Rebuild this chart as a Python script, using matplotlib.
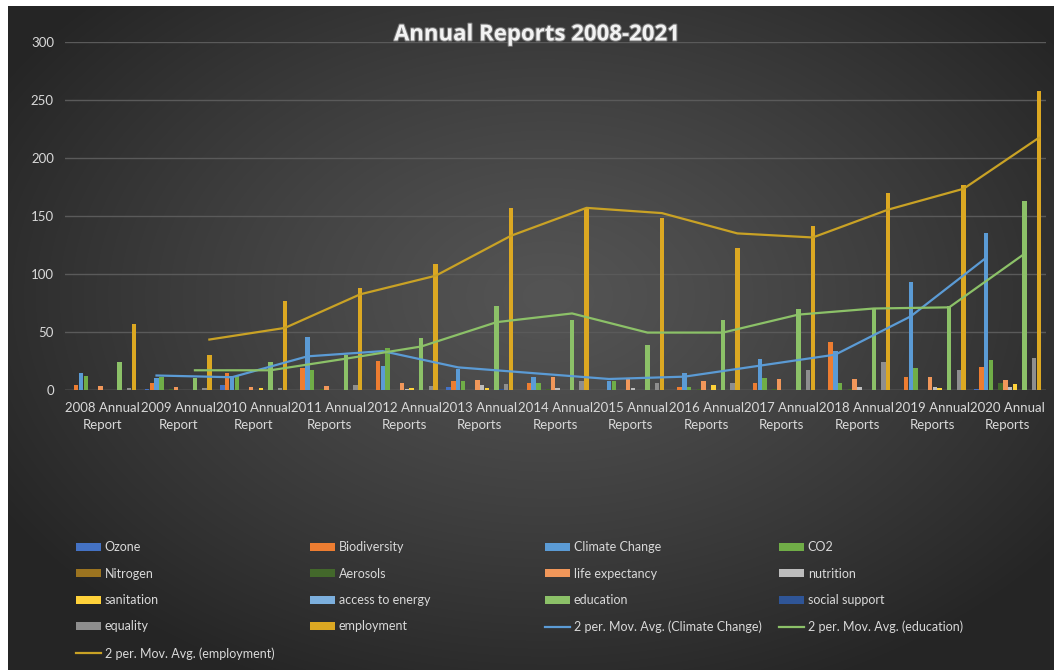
import matplotlib.pyplot as plt
import matplotlib.patheffects as pe
from matplotlib.patches import Patch
from matplotlib.lines import Line2D
import numpy as np
import pandas as pd

# report categories (x axis)
categories = ["2008 Annual\nReport", "2009 Annual\nReport", "2010 Annual\nReport",
              "2011 Annual\nReports", "2012 Annual\nReports", "2013 Annual\nReports",
              "2014 Annual\nReports", "2015 Annual\nReports", "2016 Annual\nReports",
              "2017 Annual\nReports", "2018 Annual\nReports", "2019 Annual\nReports",
              "2020 Annual\nReports"]

# mentions per report
ozone = [0, 1, 4, 0, 0, 2.5, 0, 0, 0, 0, 0, 0, 1]
biodiversity = [4, 6, 15, 19, 25, 8, 6, 0, 3, 6, 41, 11, 20]
climate_change = [15, 10, 12, 46, 21, 18, 11, 8, 15, 27, 34, 93, 135]
co2 = [12, 11, 12, 17, 36, 8, 6, 8, 3, 10, 6, 19, 26]
nitrogen = [0, 0, 0, 0, 0, 0, 0, 0, 0, 0, 0, 0, 0]
aerosols = [0, 1, 0, 1, 0, 0, 1, 0, 1, 1, 1, 0, 6]
life_expectancy = [3.5, 3, 2.5, 3.5, 6, 8.5, 11, 10, 7.5, 9.5, 9.5, 11, 9]
nutrition = [0, 0, 0, 0, 1, 4, 2, 2, 0, 0, 3, 3, 3]
sanitation = [0, 0, 2, 0, 2, 2, 0, 0, 4, 0, 0, 2, 5]
access_to_energy = [0, 0, 0, 0, 0, 0, 0, 0, 0, 0, 0, 0, 0]
education = [24, 10, 24, 30, 45, 72, 60, 39, 60, 70, 70.5, 72, 163]
social_support = [0, 0, 0, 0, 0, 1, 0, 0, 0, 0, 0, 0, 0]
equality = [2, 2, 2, 4, 3.5, 5, 8, 6, 6, 17, 24, 17, 28]
employment = [57, 30, 77, 88, 109, 157, 157, 148, 122, 141, 170, 177, 258]

names = ["Ozone", "Biodiversity", "Climate Change", "CO2", "Nitrogen", "Aerosols",
         "life expectancy", "nutrition", "sanitation", "access to energy",
         "education", "social support", "equality", "employment"]
values = [ozone, biodiversity, climate_change, co2, nitrogen, aerosols,
          life_expectancy, nutrition, sanitation, access_to_energy,
          education, social_support, equality, employment]
colors = ["#4472C4", "#ED7D31", "#5B9BD5", "#70AD47", "#9C7420", "#43682B",
          "#F1975A", "#BDBDBD", "#FFD23A", "#7CAFDD", "#8CC168", "#2F5597",
          "#8E8E8E", "#DCA822"]

# moving-average trendlines: (series index, line colour)
trends = [(2, "#5B9BD5"), (10, "#8CC168"), (13, "#C9A225")]

W, H = 1054, 670
fig = plt.figure(figsize=(W / 100, H / 100), dpi=100, facecolor="white")

# dark radial gradient behind the chart
bg = fig.add_axes([8 / W, 0, (W - 8) / W, (H - 6) / H], zorder=-10)
gx, gy = np.meshgrid(np.arange(W - 8), np.arange(H - 6))
r = np.sqrt(((gx - 540) / 640.0) ** 2 + ((gy - 290) / 430.0) ** 2)
r = np.clip(r, 0, 1)
shade = 0x54 - (0x54 - 0x25) * r ** 1.2
img = np.dstack([shade, shade, shade]) / 255.0
bg.imshow(img, aspect="auto", interpolation="bilinear")
bg.axis("off")

ax = fig.add_axes([65 / W, 1 - 390 / H, 980.5 / W, 348 / H])
ax.set_facecolor("none")

x = np.arange(len(categories))
bw = 0.0637
for i, (name, vals, col) in enumerate(zip(names, values, colors)):
    ax.bar(x + (i - 6.5) * bw, vals, bw * 0.92, color=col, edgecolor="none",
           zorder=3, label=name)

trend_handles = []
for idx, col in trends:
    ma = pd.Series(values[idx]).rolling(2).mean()
    xs = x + (idx - 6.5) * bw
    ax.plot(xs[1:], ma[1:], color=col, lw=1.6, zorder=4)
    trend_handles.append(Line2D([], [], color=col, lw=1.6,
                                label=f"2 per. Mov. Avg. ({names[idx]})"))

ax.set_xlim(-0.5, len(categories) - 0.5)
ax.set_ylim(0, 300)
ax.set_yticks(range(0, 301, 50))
ax.yaxis.grid(True, color="#5a5a5a", lw=1.0, zorder=0)
ax.axhline(0, color="#6c6c6c", lw=1.0, zorder=2)
for s in ax.spines.values():
    s.set_visible(False)
ax.set_xticks(x)
ax.set_xticklabels(categories, linespacing=1.45)
ax.tick_params(length=0, colors="#d9d9d9")
for lab in ax.get_xticklabels():
    lab.set_family("Lato")
    lab.set_fontsize(9.5)
for lab in ax.get_yticklabels():
    lab.set_family("Lato")
    lab.set_fontsize(9.5)
ax.tick_params(axis="x", pad=9)
ax.tick_params(axis="y", pad=8)

fig.text(537 / W, 1 - 35 / H, "Annual Reports 2008-2021", ha="center", va="center",
         fontsize=16, fontweight="bold", color="#f2f2f2", family="Open Sans",
         path_effects=[pe.withStroke(linewidth=1.5, foreground="#777777")])

# legend laid out in four fixed-width columns, filled row by row
entries = [Patch(facecolor=c, label=n) for n, c in zip(names, colors)] + trend_handles
col_x = [76, 310, 545, 779]
for c in range(4):
    hs = entries[c::4]
    leg = fig.legend(handles=hs, loc="upper left",
                     bbox_to_anchor=(col_x[c] / W, 1 - 541 / H),
                     frameon=False, borderpad=0, borderaxespad=0,
                     handlelength=2.0, handleheight=0.6, handletextpad=0.3,
                     labelspacing=1.16, prop={"family": "Lato", "size": 9})
    for t in leg.get_texts():
        t.set_color("#d9d9d9")

fig.savefig("out.png", dpi=100, facecolor="white")
